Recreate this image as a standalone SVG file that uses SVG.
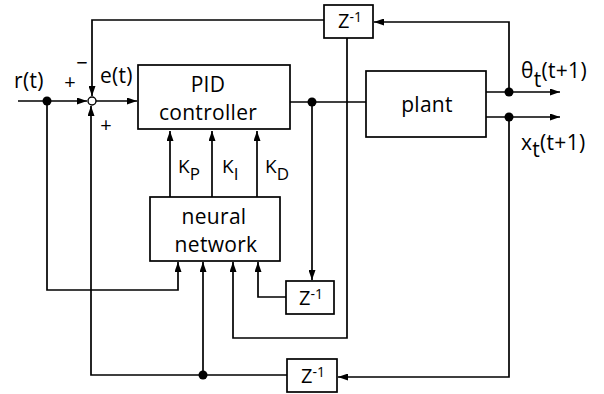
<svg xmlns="http://www.w3.org/2000/svg" width="604" height="394" viewBox="0 0 604 394">
<defs>
<style>
.box{fill:#fff;stroke:#000;stroke-width:1.7}
.ln{fill:none;stroke:#000;stroke-width:1.7}
.arr{marker-end:url(#ah)}
text{font-family:"Open Sans","Liberation Sans",sans-serif;fill:#000;font-weight:500}
.t{font-size:21px;letter-spacing:0.3px}
.z{font-size:20px}
.zs{font-size:14px}
.k{font-size:19px}
.ks{font-size:17px}
.sg{font-size:20px}
</style>
<marker id="ah" viewBox="0 0 10 7" refX="10" refY="3.5" markerWidth="11" markerHeight="7" markerUnits="userSpaceOnUse" orient="auto">
<path d="M0 0 L10 3.5 L0 7 Z" fill="#000"/>
</marker>
</defs>
<rect width="604" height="394" fill="#fff"/>
<g id="connectors">
<path class="ln arr" d="M18 101 H87"/>
<path class="ln arr" d="M96 101 H137"/>
<path class="ln arr" d="M324 20 H92 V96"/>
<path class="ln arr" d="M287 375 H91 V106"/>
<path class="ln arr" d="M203 375 V262"/>
<path class="ln arr" d="M47 101 V290 H178 V262"/>
<path class="ln arr" d="M170 197 V131"/>
<path class="ln arr" d="M212 197 V131"/>
<path class="ln arr" d="M257 197 V131"/>
<path class="ln" d="M290 102 H366"/>
<path class="ln arr" d="M312 102 V280"/>
<path class="ln arr" d="M286 297 H258 V262"/>
<path class="ln arr" d="M347 38 V338 H233 V262"/>
<path class="ln arr" d="M486 92 H560"/>
<path class="ln arr" d="M486 117 H560"/>
<path class="ln arr" d="M509 92 V22 H374"/>
<path class="ln arr" d="M509 117 V377 H338"/>
<circle cx="47" cy="101" r="4.5"/>
<circle cx="312" cy="102" r="4.5"/>
<circle cx="203" cy="375" r="4.5"/>
<circle cx="509" cy="92" r="4.5"/>
<circle cx="509" cy="117" r="4.5"/>
</g>
<g id="sum">
<circle cx="92" cy="101" r="4" fill="#fff" stroke="#000" stroke-width="1.4"/>
<text class="sg" x="70" y="89" text-anchor="middle">+</text>
<text class="sg" x="82" y="70" text-anchor="middle">−</text>
<text class="sg" x="106" y="132" text-anchor="middle">+</text>
</g>
<g id="r-label"><text class="t" x="14" y="88">r(t)</text></g>
<g id="e-label"><text class="t" x="100" y="83">e(t)</text></g>
<g id="pid">
<rect class="box" x="138" y="65" width="152" height="64"/>
<text class="t" text-anchor="middle"><tspan x="208" y="92">PID</tspan><tspan x="208" y="120">controller</tspan></text>
</g>
<g id="gains">
<text class="k" x="178" y="173">K<tspan class="ks" dy="7">P</tspan></text>
<text class="k" x="222" y="173">K<tspan class="ks" dy="7">I</tspan></text>
<text class="k" x="265" y="173">K<tspan class="ks" dy="7">D</tspan></text>
</g>
<g id="nn">
<rect class="box" x="150" y="197" width="130" height="64"/>
<text class="t" text-anchor="middle"><tspan x="214" y="224">neural</tspan><tspan x="216" y="252">network</tspan></text>
</g>
<g id="plant">
<rect class="box" x="366" y="71" width="120" height="66"/>
<text class="t" x="427" y="112" text-anchor="middle">plant</text>
</g>
<g id="z1">
<rect class="box" x="324" y="5" width="49" height="33"/>
<text class="z" x="350" y="28" text-anchor="middle">Z<tspan class="zs" dy="-6">-1</tspan></text>
</g>
<g id="z2">
<rect class="box" x="286" y="281" width="48" height="33"/>
<text class="z" x="311" y="305" text-anchor="middle">Z<tspan class="zs" dy="-6">-1</tspan></text>
</g>
<g id="z3">
<rect class="box" x="287" y="359" width="50" height="33"/>
<text class="z" x="313" y="383" text-anchor="middle">Z<tspan class="zs" dy="-6">-1</tspan></text>
</g>
<g id="theta-label"><text class="t" x="521" y="78">θ<tspan dy="9">t</tspan><tspan dy="-9">(t+1)</tspan></text></g>
<g id="x-label"><text class="t" x="521" y="150">x<tspan dy="7">t</tspan><tspan dy="-7">(t+1)</tspan></text></g>
</svg>
